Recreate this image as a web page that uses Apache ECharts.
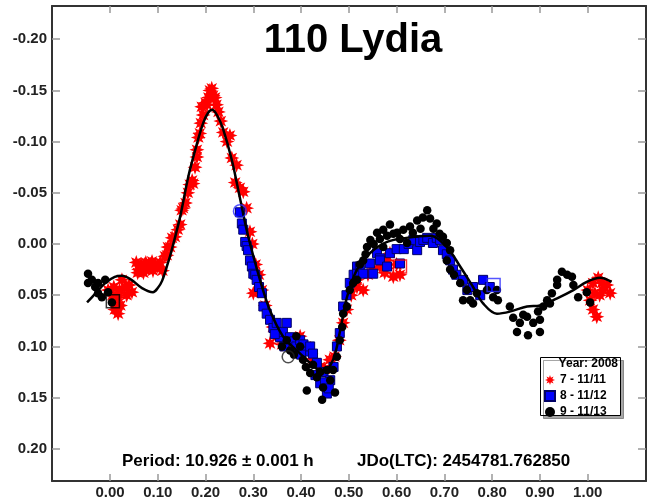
<!DOCTYPE html>
<html>
<head>
<meta charset="utf-8">
<script src="https://cdn.jsdelivr.net/npm/echarts@6/dist/echarts.min.js"></script>
<style>html,body{margin:0;padding:0;background:#fff}#c{width:647px;height:504px}</style>
</head>
<body>
<div id="c"></div>
<script>
// ---- data ----
const titleText = '110 Lydia';
const periodText = 'Period: 10.926 \u00b1 0.001 h';
const jdText = 'JDo(LTC): 2454781.762850';
const legendHeader = 'Year: 2008';
const seriesNames = ['7 - 11/11', '8 - 11/12', '9 - 11/13'];
const xTicks = [0.00, 0.10, 0.20, 0.30, 0.40, 0.50, 0.60, 0.70, 0.80, 0.90, 1.00];
const yTicks = [-0.20, -0.15, -0.10, -0.05, 0.00, 0.05, 0.10, 0.15, 0.20];
const xRange = [-0.1214, 1.122];
const yRange = [-0.2324, 0.2314];

const redData = [
[-0.004,0.045],[0.005,0.05],[0.01,0.064],[0.017,0.052],[0.017,0.068],[0.012,0.058],[0.025,0.035],[0.031,0.042],[0.046,0.047],[0.035,0.05],[0.02,0.045],[0.008,0.042],[0.022,0.06],[0.04,0.04],
[0.055,0.018],[0.06,0.025],[0.065,0.02],[0.07,0.028],[0.075,0.018],[0.08,0.024],[0.085,0.02],[0.09,0.026],[0.095,0.02],[0.058,0.028],[0.072,0.02],[0.088,0.017],
[0.1,0.022],[0.105,0.018],[0.11,0.026],[0.115,0.012],[0.119,0.011],[0.121,0.003],[0.126,0.003],[0.13,-0.006],[0.136,-0.007],[0.142,-0.014],[0.147,-0.019],[0.15,-0.033],[0.153,-0.035],[0.158,-0.04],[0.163,-0.05],[0.167,-0.058],[0.172,-0.062],[0.174,-0.059],[0.178,-0.075],[0.182,-0.085],[0.182,-0.092],[0.185,-0.104],[0.188,-0.108],[0.19,-0.118],[0.192,-0.134],[0.195,-0.126],[0.2,-0.138],[0.203,-0.136],[0.206,-0.143],[0.209,-0.15],[0.213,-0.152],[0.216,-0.145],[0.22,-0.143],[0.223,-0.136],[0.227,-0.129],[0.232,-0.12],[0.237,-0.109],[0.245,-0.1],[0.251,-0.106],[0.255,-0.084],[0.262,-0.06],[0.265,-0.077],[0.272,-0.055],[0.279,-0.051],[0.286,-0.035],[0.293,-0.012],
[0.298,0.0],[0.3,0.048],[0.305,0.02],[0.312,0.03],[0.318,0.045],[0.325,0.06],[0.335,0.097],[0.341,0.081],[0.35,0.09],[0.36,0.098],[0.37,0.098],[0.38,0.095],[0.398,0.09],[0.41,0.1],[0.425,0.112],[0.44,0.12],[0.45,0.122],[0.46,0.113],[0.47,0.11],[0.48,0.094],[0.488,0.077],[0.496,0.064],[0.505,0.05],[0.517,0.042],[0.517,0.035],[0.53,0.045],[0.54,0.03],[0.55,0.025],[0.565,0.022],[0.58,0.016],[0.586,0.009],[0.593,0.032],[0.6,0.02],[0.607,0.03],[0.575,0.028],
[1.0,0.045],[1.005,0.055],[1.011,0.038],[1.011,0.064],[1.019,0.071],[1.022,0.033],[1.025,0.05],[1.032,0.045],[1.04,0.04],[1.047,0.048],[1.015,0.048],[1.03,0.038]
];

const blueData = [
[0.272,-0.031],[0.276,-0.02],[0.279,-0.014],[0.283,-0.002],[0.286,0.002],[0.289,0.006],[0.293,0.016],[0.297,0.022],[0.3,0.029],[0.304,0.03],[0.307,0.035],[0.312,0.042],[0.318,0.048],[0.321,0.061],[0.328,0.068],[0.335,0.074],[0.342,0.082],[0.349,0.077],[0.356,0.091],[0.362,0.086],[0.37,0.077],[0.377,0.091],[0.385,0.095],[0.39,0.1],[0.398,0.094],[0.405,0.098],[0.412,0.105],[0.419,0.1],[0.425,0.107],[0.433,0.116],[0.44,0.136],[0.447,0.125],[0.454,0.146],[0.461,0.133],[0.468,0.12],[0.475,0.1],[0.481,0.087],[0.488,0.061],[0.495,0.05],[0.502,0.038],[0.51,0.03],[0.517,0.022],[0.517,0.029],[0.523,0.022],[0.53,0.029],[0.544,0.019],[0.551,0.029],[0.559,0.009],[0.565,0.014],[0.565,0.016],[0.58,0.022],[0.586,0.009],[0.6,0.005],[0.607,0.019],[0.615,0.005],[0.625,0.0],[0.635,-0.004],[0.643,0.006],[0.649,-0.002],[0.656,-0.004],[0.664,-0.006],[0.676,-0.001],[0.684,-0.006],[0.691,-0.004],[0.697,0.006],[0.705,0.01],[0.712,0.016],[0.718,0.025],[0.725,0.03],[0.739,0.035],[0.748,0.045],[0.76,0.042],[0.775,0.05],[0.781,0.035],[0.795,0.042],
[0.365,0.1],[0.4,0.108],[0.43,0.128],[0.45,0.135],[0.458,0.141],[0.345,0.088]
];

const blackData = [
[-0.046,0.029],[-0.038,0.035],[-0.046,0.038],[-0.031,0.042],[-0.025,0.038],[-0.025,0.048],[-0.017,0.052],[-0.01,0.035],[-0.004,0.047],[0.004,0.057],
[0.36,0.1],[0.37,0.094],[0.377,0.104],[0.385,0.108],[0.39,0.09],[0.398,0.1],[0.404,0.113],[0.41,0.12],[0.419,0.126],[0.412,0.143],[0.425,0.118],[0.433,0.13],[0.44,0.125],[0.446,0.14],[0.444,0.152],[0.454,0.123],[0.461,0.133],[0.467,0.123],[0.471,0.145],[0.475,0.11],[0.481,0.094],[0.486,0.081],[0.488,0.068],[0.496,0.061],[0.502,0.045],[0.509,0.038],
[0.517,0.035],[0.523,0.02],[0.53,0.016],[0.535,0.01],[0.538,0.003],[0.545,-0.004],[0.552,0.0],[0.559,-0.011],[0.565,-0.005],[0.572,-0.014],[0.572,0.003],[0.58,-0.008],[0.586,-0.019],[0.593,-0.01],[0.601,-0.011],[0.607,-0.005],[0.614,-0.014],[0.622,-0.001],[0.628,-0.017],[0.634,-0.011],[0.643,-0.023],[0.65,-0.015],[0.655,-0.026],[0.664,-0.033],[0.67,-0.025],[0.677,-0.015],[0.684,-0.02],[0.69,-0.01],[0.697,-0.007],[0.705,-0.001],[0.712,0.006],[0.705,0.016],[0.712,0.025],[0.72,0.03],[0.733,0.038],[0.739,0.055],[0.747,0.045],[0.754,0.055],[0.76,0.058],[0.768,0.048],[0.789,0.045],[0.802,0.052],[0.81,0.045],[0.812,0.055],
[0.837,0.061],[0.844,0.072],[0.852,0.086],[0.858,0.077],[0.865,0.069],[0.873,0.071],[0.875,0.089],[0.886,0.077],[0.896,0.066],[0.9,0.074],[0.9,0.086],[0.907,0.061],[0.915,0.055],[0.921,0.058],[0.925,0.048],[0.936,0.035],[0.936,0.04],[0.946,0.027],[0.957,0.03],[0.967,0.032],[0.97,0.04],[0.98,0.052],[0.998,0.047],[1.005,0.057]
];

const fitCurve = [
[-0.048,0.057],[-0.03,0.048],[-0.01,0.038],[0.01,0.032],[0.025,0.031],[0.045,0.035],[0.067,0.043],[0.09,0.047],[0.1,0.043],[0.109,0.036],[0.121,0.019],[0.128,0.008],[0.147,-0.027],[0.164,-0.066],[0.182,-0.098],[0.195,-0.118],[0.205,-0.128],[0.214,-0.131],[0.225,-0.125],[0.237,-0.112],[0.255,-0.082],[0.272,-0.045],[0.289,-0.008],[0.314,0.035],[0.335,0.065],[0.362,0.09],[0.398,0.107],[0.433,0.122],[0.446,0.125],[0.467,0.113],[0.482,0.084],[0.496,0.052],[0.517,0.025],[0.544,0.009],[0.58,-0.002],[0.62,-0.006],[0.67,-0.008],[0.705,0.003],[0.733,0.022],[0.76,0.042],[0.781,0.058],[0.81,0.068],[0.837,0.066],[0.873,0.061],[0.9,0.06],[0.936,0.053],[0.97,0.045],[0.998,0.037],[1.026,0.033],[1.05,0.037]
];

// hollow "first point" markers: [phase, mag]
const redFirst = [[0.607, 0.022]];
const blueFirstCircle = [[0.272, -0.032]];
const blueFirstSquare = [[0.803, 0.040]];
const blackFirstSquare = [[0.006, 0.056]];
const blackFirstCircle = [[0.373, 0.110]];

// ---- chart ----
const star = 'path://M10 0L11.9 5.4L17.07 2.93L14.6 8.1L20 10L14.6 11.9L17.07 17.07L11.9 14.6L10 20L8.1 14.6L2.93 17.07L5.4 11.9L0 10L5.4 8.1L2.93 2.93L8.1 5.4Z';
const FONT = '"Liberation Sans", Arial, sans-serif';
const chart = echarts.init(document.getElementById('c'), null, {renderer: 'canvas'});

function xAx(pos, showLabel) {
  return {
    type: 'value', position: pos, min: xRange[0], max: xRange[1],
    axisLine: {show: true, onZero: false, lineStyle: {color: '#333', width: 2}},
    axisTick: {show: true, inside: true, length: 7, customValues: xTicks, lineStyle: {color: '#999', width: 1.5}},
    axisLabel: {show: showLabel, customValues: xTicks, margin: 4, fontFamily: FONT, fontWeight: 'bold', fontSize: 15, color: '#222', formatter: v => v.toFixed(2)},
    splitLine: {show: false}
  };
}
function yAx(pos, showLabel) {
  return {
    type: 'value', position: pos, inverse: true, min: yRange[0], max: yRange[1],
    axisLine: {show: true, onZero: false, lineStyle: {color: '#333', width: 2}},
    axisTick: {show: true, inside: true, length: 8, customValues: yTicks, lineStyle: {color: '#999', width: 1.5}},
    axisLabel: {show: showLabel, customValues: yTicks, margin: 5, fontFamily: FONT, fontWeight: 'bold', fontSize: 15, color: '#222', formatter: v => v.toFixed(2)},
    splitLine: {show: false}
  };
}
function hollow(data, symbol, size, color) {
  return {type: 'scatter', data: data, symbol: symbol, symbolSize: size, z: 6, silent: true,
    itemStyle: {color: 'transparent', borderColor: color, borderWidth: 1.5}};
}

chart.setOption({
  animation: false,
  backgroundColor: '#fff',
  grid: {left: 52, right: 1, top: 6, bottom: 23},
  xAxis: [xAx('bottom', true), xAx('top', false)],
  yAxis: [yAx('left', true), yAx('right', false)],
  title: {text: titleText, left: 348, top: 16, textAlign: 'center',
    textStyle: {fontFamily: FONT, fontWeight: 'bold', fontSize: 40, color: '#000'}},
  legend: {
    orient: 'vertical', left: 544, top: 374, itemWidth: 10, itemHeight: 10, itemGap: 4,
    selectedMode: false, data: seriesNames,
    textStyle: {fontFamily: FONT, fontWeight: 'bold', fontSize: 12, color: '#000'},
    padding: 0, z: 20
  },
  graphic: [
    {type: 'rect', left: 540, top: 357, z: 10, shape: {width: 80, height: 58},
      style: {fill: '#fff', stroke: '#000', lineWidth: 1, shadowColor: 'rgba(0,0,0,0.35)', shadowOffsetX: 3, shadowOffsetY: 3, shadowBlur: 0}},
    {type: 'text', right: 647 - 618, top: 358, z: 11,
      style: {text: legendHeader, fontFamily: FONT, fontWeight: 'bold', fontSize: 12, fill: '#000'}},
    {type: 'text', left: 122, top: 453, z: 11,
      style: {text: periodText, fontFamily: FONT, fontWeight: 'bold', fontSize: 17, fill: '#000'}},
    {type: 'text', left: 357, top: 453, z: 11,
      style: {text: jdText, fontFamily: FONT, fontWeight: 'bold', fontSize: 17, fill: '#000'}}
  ],
  series: [
    {name: seriesNames[0], type: 'scatter', data: redData, symbol: star, symbolSize: 15, z: 2,
      itemStyle: {color: '#ff0000', opacity: 1}},
    {name: seriesNames[1], type: 'scatter', data: blueData, symbol: 'rect', symbolSize: 9, z: 3,
      itemStyle: {color: '#0000ff', borderColor: '#000066', borderWidth: 1, opacity: 1}},
    {name: seriesNames[2], type: 'scatter', data: blackData, symbol: 'circle', symbolSize: 8.5, z: 4,
      itemStyle: {color: '#000', opacity: 1}},
    {type: 'line', data: fitCurve, smooth: 0.35, showSymbol: false, symbol: 'none', z: 5, silent: true,
      lineStyle: {color: '#000', width: 2.5}},
    hollow(redFirst, 'rect', 13, '#ff0000'),
    hollow(blueFirstCircle, 'circle', 13, '#2a2aff'),
    hollow(blueFirstSquare, 'rect', 13, '#2a2aff'),
    hollow(blackFirstSquare, 'rect', 13, '#000'),
    hollow(blackFirstCircle, 'circle', 12, '#222')
  ]
});
</script>
</body>
</html>
